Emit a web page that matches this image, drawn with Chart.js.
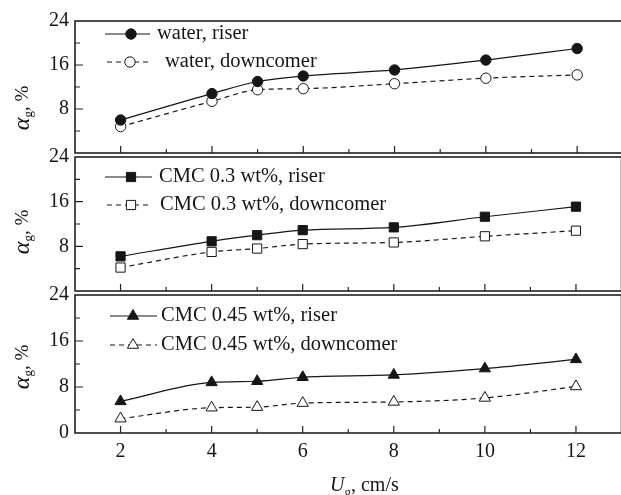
<!DOCTYPE html>
<html>
<head>
<meta charset="utf-8">
<script src="https://cdn.jsdelivr.net/npm/chart.js@4.4.0/dist/chart.umd.min.js"></script>
<style>
html, body { margin: 0; padding: 0; background: #fff; overflow: hidden; width: 621px; height: 495px; }
canvas { position: absolute; left: 0; }
#c1 { top: 0; }
#c2 { top: 137px; }
#c3 { top: 275px; }
</style>
</head>
<body>
<canvas id="c1" width="629" height="171"></canvas>
<canvas id="c2" width="629" height="172"></canvas>
<canvas id="c3" width="629" height="220"></canvas>
<script>
// gas velocity, cm/s
const uG = [2, 4, 5, 6, 8, 10, 12];

// gas holdup, %
const waterRiser = [6.0, 10.8, 13.0, 14.0, 15.1, 16.9, 19.0];
const waterDown = [4.8, 9.4, 11.5, 11.7, 12.6, 13.6, 14.2];
const cmc03Riser = [6.2, 8.9, 10.0, 10.9, 11.4, 13.3, 15.1];
const cmc03Down = [4.2, 7.0, 7.6, 8.4, 8.7, 9.8, 10.8];
const cmc045Riser = [5.5, 8.8, 9.0, 9.7, 10.1, 11.2, 12.8];
const cmc045Down = [2.5, 4.4, 4.5, 5.2, 5.4, 6.1, 8.1];

const xTickLabels = [2, 4, 6, 8, 10, 12];
const yTickLabels = [24, 16, 8];

const ink = '#161616';
const serif = 'Liberation Serif';

function drawMarker(ctx, style, x, y, r, filled) {
    ctx.beginPath();
    if (style === 'circle') {
        ctx.arc(x, y, r, 0, Math.PI * 2);
    } else if (style === 'rect') {
        const s = r * Math.SQRT1_2;
        ctx.rect(x - s, y - s, 2 * s, 2 * s);
    } else {
        let a = 0;
        ctx.moveTo(x + Math.sin(a) * r, y - Math.cos(a) * r);
        a += Math.PI * 2 / 3;
        ctx.lineTo(x + Math.sin(a) * r, y - Math.cos(a) * r);
        a += Math.PI * 2 / 3;
        ctx.lineTo(x + Math.sin(a) * r, y - Math.cos(a) * r);
        ctx.closePath();
    }
    ctx.fillStyle = filled ? ink : '#fff';
    ctx.fill();
    ctx.lineWidth = 1;
    ctx.strokeStyle = ink;
    ctx.stroke();
}

// frame, inward ticks, legend and axis titles
const deco = {
    id: 'deco',
    afterDraw(chart, args, opts) {
        const ctx = chart.ctx;
        const area = chart.chartArea;
        const xs = chart.scales.x;
        const ys = chart.scales.y;
        ctx.save();

        ctx.strokeStyle = '#222';
        ctx.lineWidth = 1.6;
        ctx.strokeRect(area.left, area.top, area.right - area.left, area.bottom - area.top);

        ctx.lineWidth = 1.2;
        ctx.beginPath();
        for (let v = 2; v <= 12; v++) {
            const px = xs.getPixelForValue(v);
            const len = v % 2 === 0 ? 7 : 4;
            ctx.moveTo(px, area.bottom);
            ctx.lineTo(px, area.bottom - len);
        }
        for (let v = 4; v < 24; v += 4) {
            const py = ys.getPixelForValue(v);
            const len = v % 8 === 0 ? 8 : 5;
            ctx.moveTo(area.left, py);
            ctx.lineTo(area.left + len, py);
        }
        ctx.stroke();

        // legend
        ctx.textBaseline = 'middle';
        ctx.textAlign = 'left';
        opts.legend.forEach(item => {
            const y = area.top + item.dy;
            ctx.beginPath();
            ctx.strokeStyle = ink;
            ctx.lineWidth = 1.2;
            ctx.setLineDash(item.dashed ? [5, 4] : []);
            ctx.moveTo(item.x0, y);
            ctx.lineTo(item.x1, y);
            ctx.stroke();
            ctx.setLineDash([]);
            drawMarker(ctx, item.style, item.mx, y, item.r, item.filled);
            ctx.fillStyle = ink;
            ctx.font = '20.5px "' + serif + '"';
            ctx.fillText(item.label, item.tx, y);
        });

        // y title
        const cy = area.top + opts.titleDy;
        ctx.translate(23, cy);
        ctx.rotate(-Math.PI / 2);
        ctx.fillStyle = ink;
        ctx.textBaseline = 'middle';
        const aFont = 'italic 24px "' + serif + '"';
        const gFont = '13px "' + serif + '"';
        const rFont = '19px "' + serif + '"';
        ctx.font = aFont; const wa = ctx.measureText('\u03B1').width;
        ctx.font = gFont; const wg = ctx.measureText('g').width;
        ctx.font = rFont; const wr = ctx.measureText(', %').width;
        let tx = -(wa + wg + wr) / 2;
        ctx.font = aFont; ctx.fillText('\u03B1', tx, 0); tx += wa;
        ctx.font = gFont; ctx.fillText('g', tx, 6); tx += wg;
        ctx.font = rFont; ctx.fillText(', %', tx, 0);
        ctx.setTransform(1, 0, 0, 1, 0, 0);

        if (opts.xTitle) {
            const base = chart.height - 4;
            ctx.textBaseline = 'alphabetic';
            let x = 330;
            ctx.font = 'italic 20px "' + serif + '"';
            ctx.fillText('U', x, base); x += ctx.measureText('U').width;
            ctx.font = gFont;
            ctx.fillText('g', x, base + 5); x += ctx.measureText('g').width;
            ctx.font = '20px "' + serif + '"';
            ctx.fillText(', cm/s', x, base);
        }
        ctx.restore();
    }
};

function series(data, style, filled, dashed, radius) {
    return {
        data: uG.map((u, i) => ({ x: u, y: data[i] })),
        borderColor: ink,
        borderWidth: 1.2,
        borderDash: dashed ? [5, 4] : [],
        pointStyle: style,
        pointRadius: radius,
        pointBackgroundColor: filled ? ink : '#fff',
        pointBorderColor: ink,
        pointBorderWidth: 1,
        cubicInterpolationMode: 'monotone',
        fill: false
    };
}

function makePanel(id, datasets, legend, titleDy, padTop, padBottom, bottom) {
    return new Chart(document.getElementById(id), {
        type: 'line',
        data: { datasets },
        options: {
            responsive: false,
            animation: false,
            events: [],
            layout: { padding: { top: padTop, bottom: padBottom, left: 0, right: 0 } },
            plugins: {
                legend: { display: false },
                tooltip: { enabled: false },
                deco: { legend, titleDy, xTitle: bottom }
            },
            scales: {
                x: {
                    type: 'linear',
                    min: 1,
                    max: 13,
                    display: bottom,
                    grid: { display: false, drawTicks: false },
                    border: { display: false },
                    ticks: {
                        stepSize: 1,
                        autoSkip: false,
                        maxRotation: 0,
                        padding: 7,
                        color: ink,
                        font: { family: serif, size: 20 },
                        callback: v => xTickLabels.includes(v) ? String(v) : ''
                    },
                    afterFit: bottom ? (s => { s.height = 62; }) : undefined
                },
                y: {
                    min: 0,
                    max: 24,
                    grid: { display: false, drawTicks: false },
                    border: { display: false },
                    ticks: {
                        stepSize: 4,
                        padding: 6,
                        color: ink,
                        font: { family: serif, size: 20 },
                        callback: v => (yTickLabels.includes(v) || (bottom && v === 0)) ? String(v) : ''
                    },
                    afterFit: s => { s.width = 75; }
                }
            }
        },
        plugins: [deco]
    });
}

makePanel('c1', [
    series(waterRiser, 'circle', true, false, 5.2),
    series(waterDown, 'circle', false, true, 5.2)
], [
    { label: 'water, riser', style: 'circle', filled: true, dashed: false, r: 5.2, dy: 13, x0: 105, x1: 150, mx: 131, tx: 157 },
    { label: 'water, downcomer', style: 'circle', filled: false, dashed: true, r: 5.2, dy: 41, x0: 107, x1: 152, mx: 130, tx: 165 }
], 87, 21, 14, false);

makePanel('c2', [
    series(cmc03Riser, 'rect', true, false, 6.5),
    series(cmc03Down, 'rect', false, true, 6.5)
], [
    { label: 'CMC 0.3 wt%, riser', style: 'rect', filled: true, dashed: false, r: 6.5, dy: 20, x0: 105, x1: 152, mx: 131, tx: 159 },
    { label: 'CMC 0.3 wt%, downcomer', style: 'rect', filled: false, dashed: true, r: 6.5, dy: 48, x0: 107, x1: 152, mx: 131, tx: 160 }
], 75, 20, 14, false);

makePanel('c3', [
    series(cmc045Riser, 'triangle', true, false, 6.5),
    series(cmc045Down, 'triangle', false, true, 6.5)
], [
    { label: 'CMC 0.45 wt%, riser', style: 'triangle', filled: true, dashed: false, r: 6.5, dy: 21, x0: 110, x1: 157, mx: 133, tx: 161 },
    { label: 'CMC 0.45 wt%, downcomer', style: 'triangle', filled: false, dashed: true, r: 6.5, dy: 50, x0: 110, x1: 157, mx: 133, tx: 161 }
], 72, 20, 0, true);
</script>
</body>
</html>
